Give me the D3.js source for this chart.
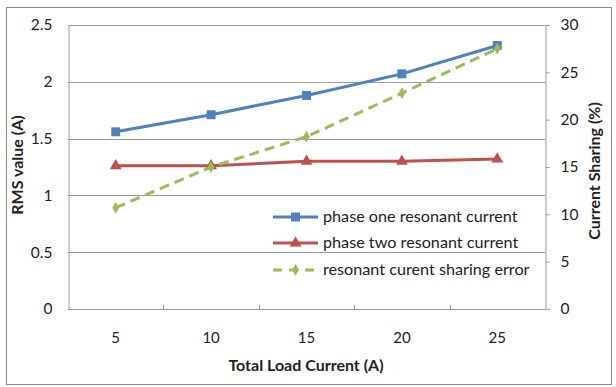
<!DOCTYPE html>
<html>
<head>
<meta charset="utf-8">
<script src="https://cdn.jsdelivr.net/npm/d3@7"></script>
<style>
  html, body { margin: 0; padding: 0; background: #fff; }
  svg { display: block; }
  text { font-family: Lato, "Open Sans", "DejaVu Sans", sans-serif; fill: #222; }
</style>
</head>
<body>
<svg id="chart" width="616" height="387"></svg>
<script>
// Load current categories (A)
const loads = [5, 10, 15, 20, 25];
// RMS resonant currents per phase (A)
const phaseOne = [1.56, 1.71, 1.88, 2.07, 2.32];
const phaseTwo = [1.26, 1.26, 1.30, 1.30, 1.32];
// Current sharing error (%)
const sharingError = [10.7, 15.0, 18.2, 22.8, 27.5];

const leftTicks = [0, 0.5, 1, 1.5, 2, 2.5];
const rightTicks = [0, 5, 10, 15, 20, 25, 30];

const seriesNames = ["phase one resonant current", "phase two resonant current", "resonant curent sharing error"];
const colors = ["#4f81bd", "#c0504d", "#9bbb59"];

const svg = d3.select("#chart");
const m = { left: 68, right: 545, top: 25, bottom: 309 };

// outer frame
svg.append("rect").attr("x", 6.5).attr("y", 7.5).attr("width", 605).attr("height", 377)
  .attr("fill", "#fff").attr("stroke", "#8c8c8c").attr("stroke-width", 1);

const x = d3.scaleBand().domain(loads).range([m.left, m.right]);
const yL = d3.scaleLinear().domain([0, 2.5]).range([m.bottom, m.top]);
const yR = d3.scaleLinear().domain([0, 30]).range([m.bottom, m.top]);

// horizontal gridlines
svg.append("g").selectAll("line").data(leftTicks).join("line")
  .attr("x1", m.left).attr("x2", m.right)
  .attr("y1", d => Math.round(yL(d)) + 0.5).attr("y2", d => Math.round(yL(d)) + 0.5)
  .attr("stroke", "#9a9a9a").attr("stroke-width", 1);

// left axis
const gL = svg.append("g").attr("transform", `translate(${m.left + 0.5},0)`)
  .call(d3.axisLeft(yL).tickValues(leftTicks).tickSize(0).tickPadding(16).tickFormat(d => d));
gL.select(".domain").attr("stroke", "#9a9a9a");
gL.selectAll("text").attr("font-size", 15.5).attr("fill", "#222");

// right axis
const gR = svg.append("g").attr("transform", `translate(${m.right + 0.5},0)`)
  .call(d3.axisRight(yR).tickValues(rightTicks).tickSize(4).tickPadding(11).tickFormat(d => d));
gR.select(".domain").attr("stroke", "#9a9a9a");
gR.selectAll(".tick line").attr("stroke", "#9a9a9a");
gR.selectAll("text").attr("font-size", 15.5).attr("fill", "#222");

// bottom axis
const xTickPos = loads.slice(1).map(d => x(d));
svg.append("g").selectAll("line").data(xTickPos).join("line")
  .attr("x1", d => Math.round(d) + 0.5).attr("x2", d => Math.round(d) + 0.5)
  .attr("y1", m.bottom).attr("y2", m.bottom - 4)
  .attr("stroke", "#9a9a9a");
svg.append("g").selectAll("text").data(loads).join("text")
  .attr("x", d => x(d) + x.bandwidth() / 2).attr("y", 343)
  .attr("text-anchor", "middle").attr("font-size", 15).attr("fill", "#444").text(d => d);

// axis titles
svg.append("text").attr("x", 306).attr("y", 371).attr("text-anchor", "middle")
  .attr("font-size", 16).attr("font-weight", "bold").text("Total Load Current (A)");
svg.append("text").attr("transform", "translate(23,165) rotate(-90)").attr("text-anchor", "middle")
  .attr("font-size", 16).attr("font-weight", "bold").text("RMS value (A)");
svg.append("text").attr("transform", "translate(600,171) rotate(-90)").attr("text-anchor", "middle")
  .attr("font-size", 16).attr("font-weight", "bold").text("Current Sharing (%)");

const cx = d => x(d) + x.bandwidth() / 2;

function drawSeries(values, scale, color, dash, marker) {
  const pts = values.map((v, i) => [cx(loads[i]), scale(v)]);
  svg.append("path").attr("d", d3.line()(pts)).attr("fill", "none")
    .attr("stroke", color).attr("stroke-width", 3).attr("stroke-dasharray", dash);
  svg.append("g").selectAll("path").data(pts).join("path")
    .attr("transform", d => `translate(${d[0]},${d[1]})`)
    .attr("d", marker).attr("fill", color);
}

const squareSym = d3.symbol(d3.symbolSquare, 80)();
const triSym = d3.symbol(d3.symbolTriangle, 60)();
const diaSym = d3.symbol(d3.symbolDiamond, 40)();

drawSeries(phaseOne, yL, colors[0], null, squareSym);
drawSeries(phaseTwo, yL, colors[1], null, triSym);
drawSeries(sharingError, yR, colors[2], "10,6", diaSym);

// legend
const legY = [217, 243, 270];
const symbols = [squareSym, triSym, diaSym];
const dashes = [null, null, "9,7"];
seriesNames.forEach((name, i) => {
  const g = svg.append("g");
  g.append("line").attr("x1", 273).attr("x2", 318).attr("y1", legY[i]).attr("y2", legY[i])
    .attr("stroke", colors[i]).attr("stroke-width", 3).attr("stroke-dasharray", dashes[i]);
  g.append("path").attr("transform", `translate(295.5,${legY[i]})`).attr("d", symbols[i]).attr("fill", colors[i]);
  g.append("text").attr("x", 323).attr("y", legY[i] + 5).attr("font-size", 16.2).text(name);
});
</script>
</body>
</html>
